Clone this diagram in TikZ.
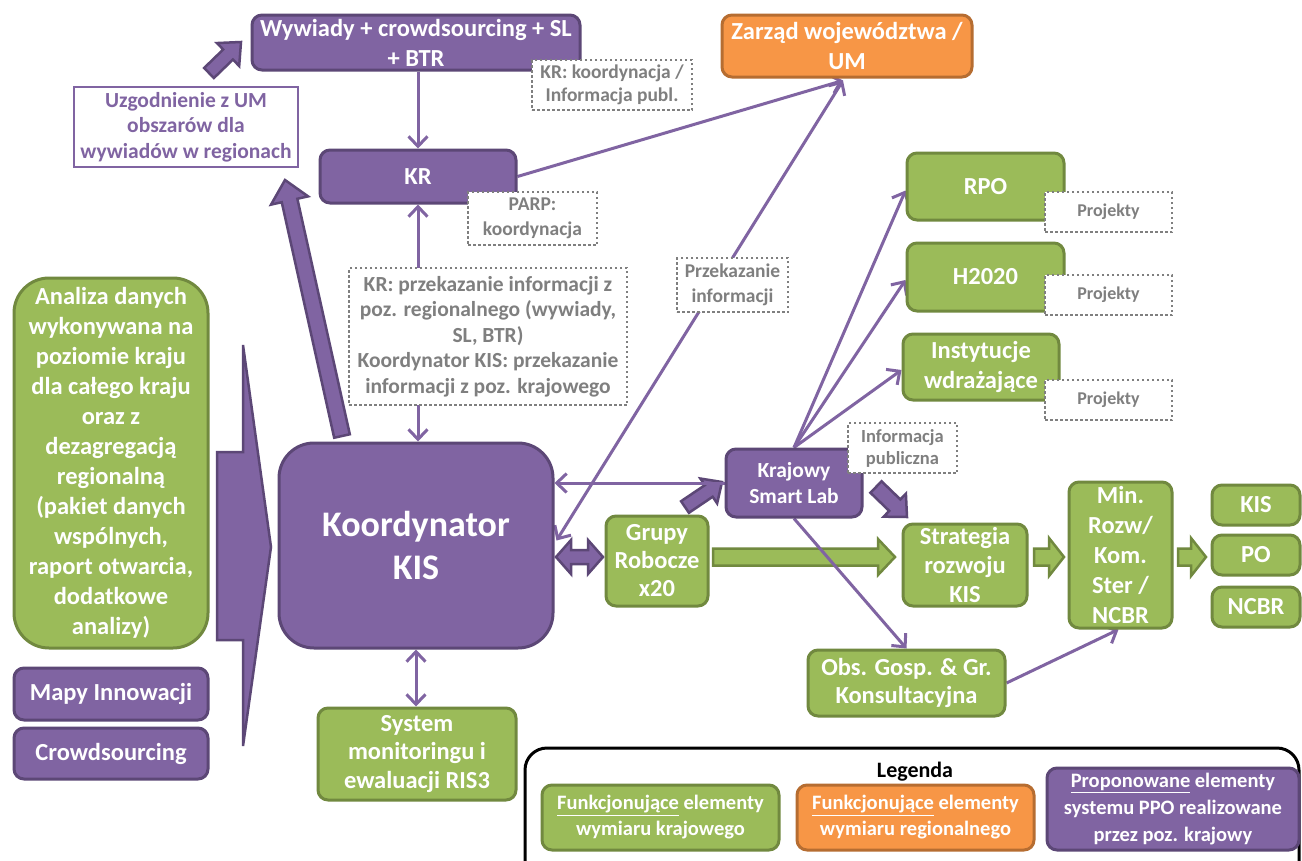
\documentclass[tikz,border=0pt]{standalone}
\usepackage{fontspec}
\setmainfont{Carlito}
\usetikzlibrary{arrows.meta,calc}
\pgfdeclarelayer{background}
\pgfsetlayers{background,main}
\definecolor{purp}{HTML}{8064A2}
\definecolor{purpd}{HTML}{5C4776}
\definecolor{grn}{HTML}{9BBB59}
\definecolor{grnd}{HTML}{71893F}
\definecolor{orn}{HTML}{F79646}
\definecolor{ornd}{HTML}{B66D31}
\definecolor{gry}{HTML}{7F7F7F}
\newcommand\fsz[2]{\fontsize{#1}{#2}\selectfont}
% block arrow: style, start, tip, shaft half width, head half width, head length
\newcommand\blockarrow[6]{%
  \filldraw[#1] ($(#2)!#4!90:(#3)$)
    -- ($(#3)!#6!(#2)!#4!-90:(#2)$)
    -- ($(#3)!#6!(#2)!#5!-90:(#2)$)
    -- (#3)
    -- ($(#3)!#6!(#2)!#5!90:(#2)$)
    -- ($(#3)!#6!(#2)!#4!90:(#2)$)
    -- ($(#2)!#4!-90:(#3)$) -- cycle;}
\tikzset{
  >={Straight Barb[length=10pt,width=19pt]},
  box/.style={rounded corners=10pt, line width=3pt, inner sep=0pt, align=center,
    text=white, font=\fsz{24.5}{30}\bfseries},
  pbox/.style={box, fill=purp, draw=purpd},
  gbox/.style={box, fill=grn, draw=grnd},
  obox/.style={box, fill=orn, draw=ornd},
  note/.style={draw=gry, fill=white, line width=2.5pt, dash pattern=on 2.5pt off 2.5pt,
    text=gry, inner sep=0pt, align=center, font=\fsz{19.5}{24}\bfseries},
  conn/.style={draw=purp, line width=3pt},
  parrow/.style={fill=purp, draw=purpd, line width=2.5pt, line join=miter},
  garrow/.style={fill=grn, draw=grnd, line width=2.5pt, line join=miter},
}
\begin{document}
\begin{tikzpicture}[x=1pt,y=-1pt]
\useasboundingbox (0,0) rectangle (1302,860);
\clip (0,0) rectangle (1302,860);

% ---------- boxes ----------
\node[pbox, minimum width=328pt, minimum height=55pt] (wyw) at (416,42.5)
  {Wywiady + crowdsourcing + SL\\+ BTR};
\node[draw=purp, fill=white, line width=2.5pt, text=purp, inner sep=0pt, align=center,
  font=\fsz{21.5}{25.5}\bfseries, minimum width=224pt, minimum height=80pt] (uzg) at (186,127)
  {Uzgodnienie z UM\\obszarów dla\\wywiadów w regionach};
\node[pbox, minimum width=196pt, minimum height=53pt] (kr) at (418,176.5) {KR};
\node[obox, minimum width=250pt, minimum height=62pt] (zarzad) at (847,46)
  {Zarząd województwa /\\UM};
\node[pbox, rounded corners=35pt, minimum width=274pt, minimum height=205pt,
  font=\fsz{36}{43}\bfseries] (koord) at (416,545.5) {Koordynator\\KIS};
\node[gbox, rounded corners=35pt, minimum width=194pt, minimum height=370pt] (analiza) at (111,463)
  {Analiza danych\\wykonywana na\\poziomie kraju\\dla całego kraju\\oraz z\\dezagregacją\\regionalną\\(pakiet danych\\wspólnych,\\raport otwarcia,\\dodatkowe\\analizy)};
\node[pbox, minimum width=194pt, minimum height=52pt] (mapy) at (111,694) {Mapy Innowacji};
\node[pbox, minimum width=194pt, minimum height=51pt] (crowd) at (111,753.5) {Crowdsourcing};
\node[gbox, minimum width=198pt, minimum height=92pt, font=\fsz{24.5}{28.5}\bfseries] (sysmon) at (417,754)
  {System\\monitoringu i\\ewaluacji RIS3};
\node[gbox, minimum width=102pt, minimum height=90pt, font=\fsz{24.5}{28}\bfseries] (grupy) at (657,561)
  {Grupy\\Robocze\\x20};
\node[pbox, minimum width=136pt, minimum height=68pt, font=\fsz{21.5}{26}\bfseries] (lab) at (794,483)
  {Krajowy\\Smart Lab};
\node[gbox, minimum width=157pt, minimum height=67pt] (rpo) at (985.5,186.5) {RPO};
\node[gbox, minimum width=157pt, minimum height=68pt] (h2020) at (985.5,277) {H2020};
\node[gbox, minimum width=156pt, minimum height=66pt] (inst) at (981,367) {Instytucje\\wdrażające};
\node[gbox, minimum width=124pt, minimum height=82pt, font=\fsz{24.5}{29}\bfseries] (strat) at (965,565)
  {Strategia\\rozwoju\\KIS};
\node[gbox, minimum width=103pt, minimum height=146pt] (min) at (1120.5,555)
  {Min.\\Rozw/\\Kom.\\Ster /\\NCBR};
\node[gbox, minimum width=88pt, minimum height=40pt] (kis) at (1256,505) {KIS};
\node[gbox, minimum width=88pt, minimum height=40pt] (po) at (1256,555) {PO};
\node[gbox, minimum width=88pt, minimum height=40pt] (ncbr) at (1256,607) {NCBR};
\node[gbox, minimum width=197pt, minimum height=66pt, font=\fsz{24.5}{28}\bfseries] (obs) at (906.5,683)
  {Obs. Gosp. \& Gr.\\Konsultacyjna};

% ---------- dotted notes ----------
\node[note, minimum width=160pt, minimum height=50pt, font=\fsz{19.5}{23}\bfseries] (krnote) at (612,85)
  {KR: koordynacja /\\Informacja publ.};
\node[note, minimum width=129pt, minimum height=53pt, font=\fsz{19.5}{25}\bfseries] (parp) at (532.5,218.5)
  {PARP:\\koordynacja};
\node[note, minimum width=278pt, minimum height=137pt, font=\fsz{21.5}{25.5}\bfseries] (przek) at (488,336.5)
  {KR: przekazanie informacji z\\poz. regionalnego (wywiady,\\SL, BTR)\\Koordynator KIS: przekazanie\\informacji z poz. krajowego};
\node[note, minimum width=111pt, minimum height=54pt, font=\fsz{19.5}{25}\bfseries] (przinfo) at (732.5,285)
  {Przekazanie\\informacji};
\node[note, minimum width=109pt, minimum height=50pt, font=\fsz{18.5}{22}\bfseries] (infopub) at (902.5,448)
  {Informacja\\publiczna};
\node[note, minimum width=127pt, minimum height=40pt, font=\fsz{18}{22}\bfseries] (proj1) at (1108.5,212) {Projekty};
\node[note, minimum width=127pt, minimum height=40pt, font=\fsz{18}{22}\bfseries] (proj2) at (1108.5,295) {Projekty};
\node[note, minimum width=127pt, minimum height=40pt, font=\fsz{18}{22}\bfseries] (proj3) at (1108.5,400) {Projekty};

% ---------- legend ----------
\draw[line width=3pt, rounded corners=22pt] (525,748) rectangle (1299,890);
\node[font=\fsz{22}{26}\bfseries] (legtitle) at (915,772) {Legenda};
\node[gbox, minimum width=237pt, minimum height=65pt, font=\fsz{20.5}{26}\bfseries] (leg1) at (660.5,817.5)
  {\underline{Funkcjonujące} elementy\\wymiaru krajowego};
\node[obox, minimum width=237pt, minimum height=65pt, font=\fsz{20.5}{26}\bfseries] (leg2) at (915.5,817.5)
  {\underline{Funkcjonujące} elementy\\wymiaru regionalnego};
\node[pbox, minimum width=252pt, minimum height=82pt, font=\fsz{20.5}{27}\bfseries] (leg3) at (1173,809)
  {\underline{Proponowane} elementy\\systemu PPO realizowane\\przez poz. krajowy};

% ---------- connectors and block arrows ----------
\coordinate (zin) at ($(zarzad.south)+(-4,2)$);
\coordinate (kin) at ($(koord.east)+(2,-5)$);
\begin{pgfonlayer}{background}
  \fill[white] (0,0) rectangle (1302,860);
  % block arrows
  \blockarrow{parrow}{209,73}{241,42}{7pt}{16pt}{18pt}
  \blockarrow{parrow}{342,436}{285,180}{8pt}{19pt}{21pt}
  \filldraw[parrow] (217,452) -- (243,452) -- (243,345) -- (271,547) -- (243,746)
    -- (243,640) -- (217,640) -- cycle;
  \filldraw[parrow] (556,557) -- (571,540) -- (571,550) -- (588,550) -- (588,540)
    -- (603,557) -- (588,574) -- (588,564) -- (571,564) -- (571,574) -- cycle;
  \blockarrow{parrow}{685,507}{722,482}{7pt}{15pt}{16pt}
  \blockarrow{parrow}{876,487}{907,517}{8pt}{16pt}{17pt}
  \blockarrow{garrow}{713,557}{895,557}{8.5pt}{18pt}{17pt}
  \blockarrow{garrow}{1034,557}{1064,557}{8.5pt}{19pt}{15pt}
  \blockarrow{garrow}{1178,557}{1206,557}{8.5pt}{19pt}{15pt}
  % thin connectors
  \draw[conn,->] (kr.north |- wyw.south) -- (kr.north);
  \draw[conn,<->] (kr.south) -- (kr.south |- koord.north);
  \draw[conn,->] (kr.east) -- (zin);
  \draw[conn,<->] (kin) -- (zin);
  \draw[conn,->] (lab.west) -- (lab.west -| koord.east);
  \draw[conn,->] (lab.north) -- ($(rpo.west)+(0,4)$);
  \draw[conn,->] (lab.north) -- ($(h2020.west)+(0,3)$);
  \draw[conn,->] (lab.north) -- ($(inst.west)+(0,3)$);
  \draw[conn,->] (lab.south) -- (obs.north);
  \draw[conn,->] (obs.east) -- ($(min.south)+(-2,0)$);
  \draw[conn,<->] (koord.south) -- (koord.south |- sysmon.north);
\end{pgfonlayer}
\end{tikzpicture}
\end{document}
